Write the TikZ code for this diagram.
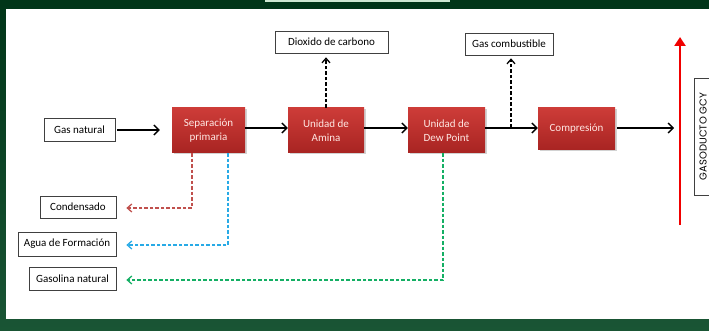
\documentclass[tikz,border=0pt]{standalone}
\usepackage{fontspec}
\setmainfont{Carlito}
\newfontfamily\gyfont{Poppins}
\usetikzlibrary{arrows.meta,shadows}
\definecolor{frameg}{RGB}{0,66,30}
\definecolor{tabg}{RGB}{205,232,210}
\definecolor{boxtop}{RGB}{205,60,56}
\definecolor{boxbot}{RGB}{168,36,34}
\definecolor{boxtxt}{RGB}{255,232,228}
\definecolor{dred}{RGB}{192,80,77}
\definecolor{dblue}{RGB}{40,170,230}
\definecolor{dgreen}{RGB}{20,175,100}
\definecolor{pipe}{RGB}{240,0,0}
\tikzset{
  procbox/.style={draw=none, top color=boxtop, bottom color=boxbot,
    text=boxtxt, font=\fontsize{11}{14}\selectfont, align=center,
    drop shadow={shadow xshift=1.5pt, shadow yshift=-1.5pt, fill=black!35},
    minimum width=#1, minimum height=45pt, inner sep=0pt},
  labbox/.style={draw=black!75, line width=0.7pt, fill=white,
    font=\fontsize{11}{13}\selectfont, minimum height=23pt, minimum width=#1, inner sep=0pt,
    drop shadow={shadow xshift=1pt, shadow yshift=-1pt, fill=black!20}},
  flow/.style={line width=1.4pt, -{Straight Barb[length=5pt,width=10pt,line width=1.4pt]}},
  dflow/.style={line width=1.3pt, dash pattern=on 3.5pt off 2pt,
    -{Straight Barb[length=4.5pt,width=8pt,line width=1.3pt]}}
}
\begin{document}
\begin{tikzpicture}[x=1pt,y=-1pt]
\useasboundingbox (0,0) rectangle (709,331);
\shade[top color=frameg!80!black, bottom color=frameg!90!white] (0,0) rectangle (709,331);
\fill[white] (6,9) rectangle (709,319);
\fill[tabg] (265,0) rectangle (450,2.5);
% nodes
\node[labbox=71pt] (gn) at (79.5,130) {Gas natural};
\node[procbox=73pt] (sep) at (208.5,130.5) {Separación\\primaria};
\node[procbox=76pt] (ami) at (326,130.5) {Unidad de\\Amina};
\node[procbox=77pt] (dew) at (446.5,130.5) {Unidad de\\Dew Point};
\node[procbox=77pt, minimum height=42pt] (com) at (576.5,129) {Compresión};
\node[labbox=113pt, minimum height=22pt] (co2) at (331.5,42) {Dioxido de carbono};
\node[labbox=88pt, minimum height=22pt] (gc) at (509,44) {Gas combustible};
\node[labbox=76pt, minimum height=22pt] (cond) at (78,207) {Condensado};
\node[labbox=98pt, minimum height=24pt] (agua) at (67,244) {Agua de Formación};
\node[labbox=87pt] (gas) at (72.5,278.5) {Gasolina natural};
\node[draw=black!75, line width=0.7pt, minimum width=117pt, minimum height=17pt, inner sep=0pt,
  rotate=90, font=\gyfont\fontsize{10}{12}\selectfont] (gcy) at (703,136.5) {GASODUCTO GCY};
\coordinate (pipeB) at (680,225);
\coordinate (pipeT) at (680,37);
\coordinate (br) at (511,128);
\coordinate (out) at (674,128);
\coordinate (cR) at (192,208);
\coordinate (cB) at (228,245);
\coordinate (cG) at (443,280);
% main flow
\draw[flow] (gn.east) ++(2,0) -- ([xshift=-12pt]sep.west |- gn.east);
\draw[flow] (sep.east |- br) -- (ami.west |- br);
\draw[flow] (ami.east |- br) -- (dew.west |- br);
\draw[flow] (dew.east |- br) -- (com.west |- br);
\draw[flow] (com.east |- br) ++(2,0) -- (out);
\draw[dflow, black] (ami.north) -- ([yshift=-4pt]co2.south -| ami.north);
\draw[dflow, black] (br) -- ([yshift=-3pt]gc.south -| br);
% by-products
\draw[dflow, dred] (sep.south -| cR) -- (cR) -- ([xshift=10pt]cond.east |- cR);
\draw[dflow, dblue] (sep.south -| cB) -- (cB) -- ([xshift=10pt]agua.east |- cB);
\draw[dflow, dgreen] (dew.south -| cG) -- (cG) -- ([xshift=10pt]gas.east |- cG);
% pipeline
\draw[pipe, line width=2.6pt, -{Triangle[length=9pt,width=11pt]}] (pipeB) -- (pipeT);
\end{tikzpicture}
\end{document}
